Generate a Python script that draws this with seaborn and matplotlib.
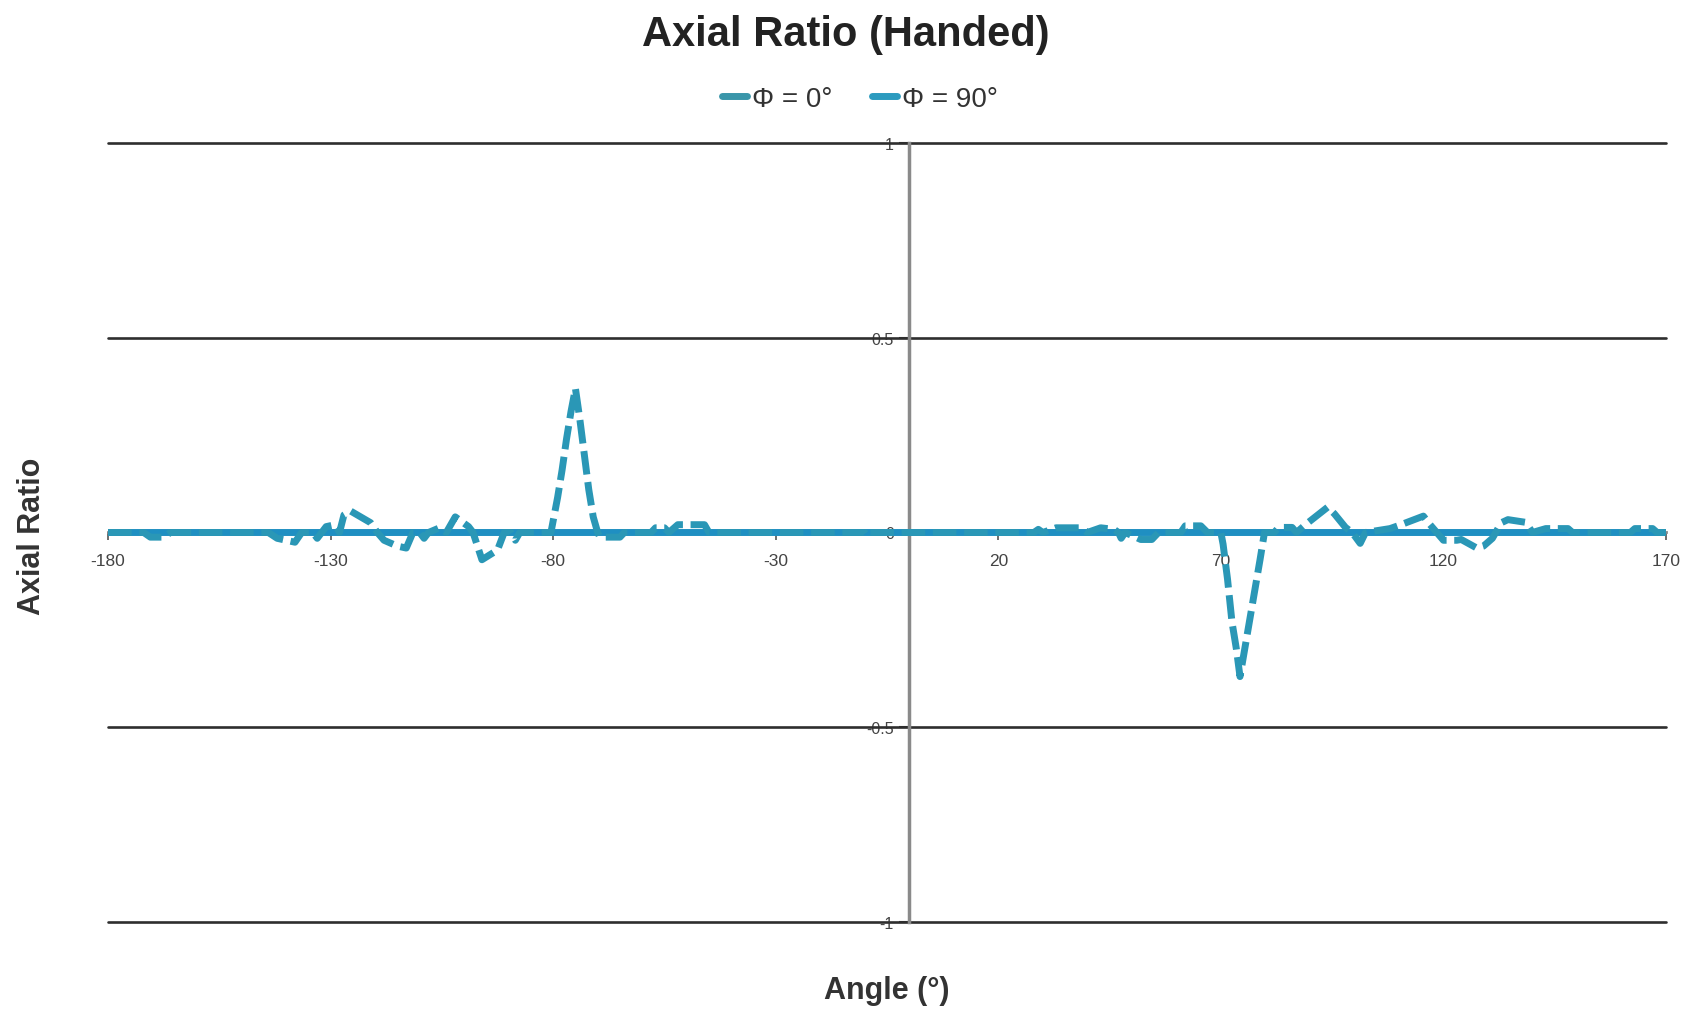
import numpy as np
import pandas as pd
import matplotlib
matplotlib.use("Agg")
import matplotlib.pyplot as plt
import seaborn as sns

# phi = 0 deg: flat at zero over the whole sweep
phi0_angle = [-180, 170]
phi0_ar = [0.0, 0.0]

# phi = 90 deg: polyline vertices
phi90_angle = [-180, -172, -170.5, -167.5, -166, -144, -142, -138, -136.5, -134,
               -133, -132, -131, -129, -128, -127, -125.5, -121, -119.5, -118,
               -115, -113, -111.5, -110, -109, -108, -105.5, -104, -102, -99,
               -98, -96, -92.5, -91, -89.5, -88.5, -87.5, -81, -80.5, -80,
               -79, -78, -77, -76, -75, -74, -73, -72, -71, -70,
               -69.5, -65, -64, -58, -57, -55, -54, -52, -46, -45,
               -10, -9.5, -9, 28, 29, 30, 33, 38.5, 40, 43,
               46, 47, 47.6, 48.5, 52, 54.5, 56, 61, 62, 65.5,
               67, 70, 70.5, 71.5, 72.5, 73.5, 74.3, 75.5, 77, 78.8,
               79.8, 82, 83, 86, 87, 89, 94, 95.5, 98, 99.5,
               101.3, 102.5, 108, 110, 115.5, 117, 118.5, 120, 123, 124,
               127.5, 129, 131, 133, 134.5, 138.5, 140, 143, 148, 149,
               162, 163, 167, 168, 170]
phi90_ar = [0, 0, -0.012, -0.012, 0, 0, -0.015, -0.025, 0, 0,
            -0.015, 0, 0.015, 0.02, 0, 0.045, 0.055, 0.025, 0, -0.02,
            -0.035, -0.04, 0, 0, -0.015, 0, 0.012, 0, 0.04, 0.015,
            0, -0.07, -0.045, 0, 0, -0.02, 0, 0, 0, 0.03,
            0.09, 0.16, 0.24, 0.31, 0.37, 0.29, 0.2, 0.11, 0.04, 0,
            -0.012, -0.012, 0, 0, 0.012, 0.012, 0, 0.02, 0.02, 0,
            0, -0.008, 0, 0, 0.008, 0, 0.012, 0.012, 0, 0.012,
            0.008, 0, -0.015, 0, -0.018, -0.018, 0, 0, 0.017, 0.017,
            0, 0, -0.03, -0.12, -0.23, -0.3, -0.37, -0.29, -0.19, -0.07,
            0, 0, 0.013, 0.013, 0, 0.02, 0.065, 0.048, 0.013, 0,
            -0.028, 0, 0.01, 0.018, 0.042, 0.02, 0, -0.02, -0.02, -0.018,
            -0.04, -0.035, -0.015, 0.025, 0.033, 0.026, 0, 0.01, 0.01, 0,
            0, 0.01, 0.01, 0, 0]

labels = ["Φ = 0°", "Φ = 90°"]
xticks = [-180, -130, -80, -30, 20, 70, 120, 170]
yticks = [-1, -0.5, 0, 0.5, 1]

df = pd.concat([
    pd.DataFrame({"angle": phi0_angle, "ar": phi0_ar, "series": labels[0]}),
    pd.DataFrame({"angle": phi90_angle, "ar": phi90_ar, "series": labels[1]}),
])

sns.set_theme(style="white")
plt.rcParams["font.family"] = ["Liberation Sans", "DejaVu Sans"]
plt.rcParams["axes.unicode_minus"] = False

fig = plt.figure(figsize=(16.96, 10.12), dpi=100)
ax = fig.add_axes([0.0637, 0.088, 0.9186, 0.7697])

sns.lineplot(data=df, x="angle", y="ar", hue="series", style="series",
             palette={labels[0]: "#1f8fc2", labels[1]: "#2a97b6"},
             dashes={labels[0]: "", labels[1]: (3.4, 1.1)},
             estimator=None, sort=False, linewidth=5, ax=ax, legend=False, zorder=3)

ax.set_xlim(-180, 170)
ax.set_ylim(-1, 1)
ax.set_xticks(xticks)
ax.set_yticks(yticks)
ax.set_yticklabels(["-1", "-0.5", "0", "0.5", "1"])

for y in [-1, -0.5, 0.5, 1]:
    ax.axhline(y, color="#2e2e2e", lw=1.9, zorder=1, clip_on=False)

ax.spines["left"].set_position(("data", 0))
ax.spines["bottom"].set_position(("data", 0))
ax.spines["left"].set_color("#8a8a8a")
ax.spines["left"].set_linewidth(2.5)
ax.spines["bottom"].set_color("#8a8a8a")
ax.spines["bottom"].set_linewidth(2)
ax.spines["top"].set_visible(False)
ax.spines["right"].set_visible(False)

ax.tick_params(axis="x", direction="out", length=6, width=1.2, color="#555555",
               labelsize=12.5, labelcolor="#444444", pad=9)
ax.tick_params(axis="y", direction="out", length=7, width=1.5, color="#333333",
               labelsize=11.5, labelcolor="#444444", pad=4)
ax.xaxis.set_ticks_position("bottom")
ax.yaxis.set_ticks_position("left")

ax.set_xlabel("")
ax.set_ylabel("")
fig.text(0.523, 0.021, "Angle (°)", ha="center", va="center",
         fontsize=22, fontweight="bold", color="#333333")
fig.text(0.019, 0.47, "Axial Ratio", ha="center", va="center", rotation=90,
         fontsize=22, fontweight="bold", color="#333333")
fig.suptitle("Axial Ratio (Handed)", x=0.499, y=0.985, fontsize=30,
             fontweight="bold", color="#222222")

handles = [plt.Line2D([], [], color="#3a96aa", lw=5),
           plt.Line2D([], [], color="#2c9bbf", lw=5)]
fig.legend(handles, labels, loc="center", bbox_to_anchor=(0.507, 0.901),
           ncol=2, frameon=False, fontsize=20, handlelength=0.9,
           handletextpad=0.2, columnspacing=1.4, labelcolor="#333333")

fig.savefig("out.png", dpi=100)
